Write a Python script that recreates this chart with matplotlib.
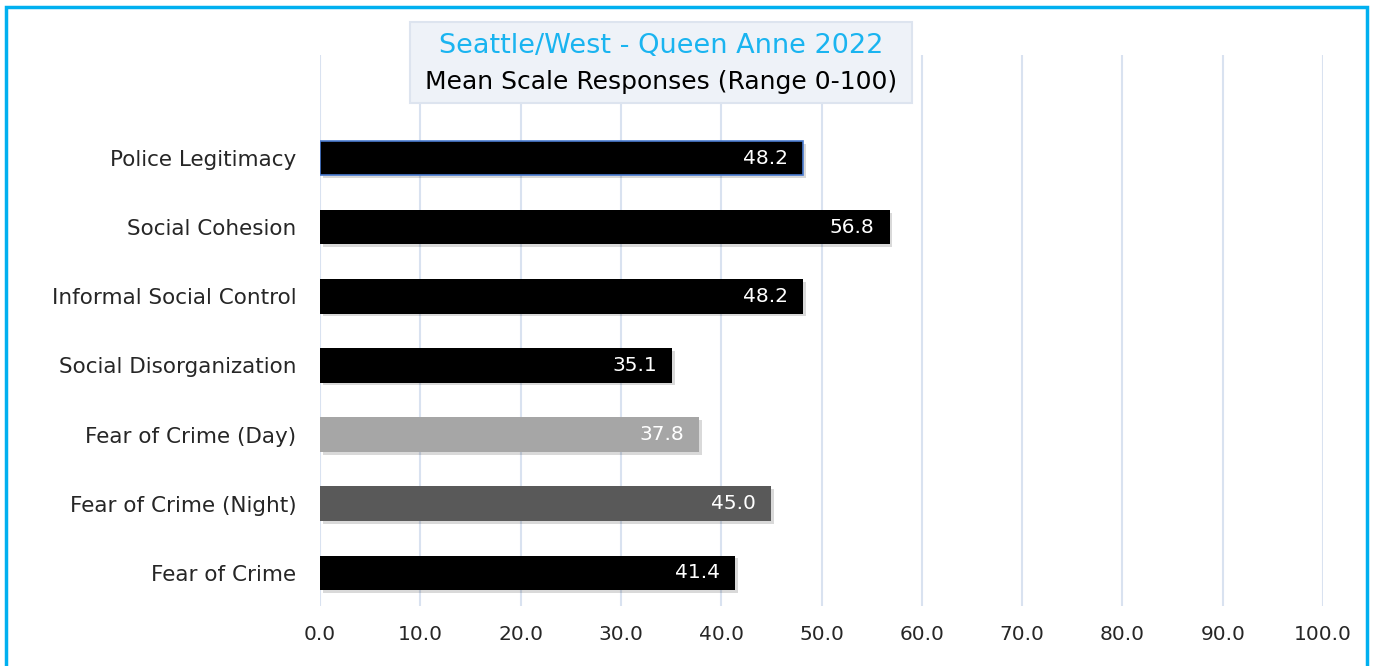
import matplotlib.pyplot as plt
import matplotlib.patches as mpatches
import matplotlib.patheffects as pe

categories = ["Fear of Crime", "Fear of Crime (Night)", "Fear of Crime (Day)",
              "Social Disorganization", "Informal Social Control",
              "Social Cohesion", "Police Legitimacy"]
values = [41.4, 45.0, 37.8, 35.1, 48.2, 56.8, 48.2]
colors = ["#000000", "#595959", "#a6a6a6", "#000000", "#000000", "#000000", "#000000"]
xticks = [0, 10, 20, 30, 40, 50, 60, 70, 80, 90, 100]

plt.rcParams['font.family'] = ['DejaVu Sans']

fig = plt.figure(figsize=(13.77, 6.66), dpi=100)
ax = fig.add_axes([320 / 1377, 1 - 606 / 666, (1323 - 320) / 1377, (606 - 55) / 666])

shadow = [pe.SimplePatchShadow(offset=(2, -2), shadow_rgbFace="#000000", alpha=0.15), pe.Normal()]
pos = list(range(len(categories)))
bars = ax.barh(pos, values, height=0.5, color=colors, zorder=3)
for b in bars:
    b.set_path_effects(shadow)
# selected outline on top bar
bars[-1].set_edgecolor("#4a7bd0")
bars[-1].set_linewidth(1.2)

for p, v in zip(pos, values):
    ax.text(v - 1.5, p, f"{v:.1f}", color="white", ha="right", va="center",
            fontsize=14.5, zorder=4)

ax.set_xlim(0, 100)
ax.set_ylim(-0.48, 7.49)
ax.set_xticks(xticks)
ax.set_xticklabels([f"{t:.1f}" for t in xticks], fontsize=14.5, color="#262626")
ax.set_yticks(pos)
ax.set_yticklabels(categories, fontsize=15.5, color="#262626")
ax.tick_params(length=0, pad=17, axis="y")
ax.tick_params(length=0, pad=14, axis="x")
ax.grid(axis="x", color="#d9e2f0", linewidth=1.5, zorder=0)
for s in ax.spines.values():
    s.set_visible(False)

# title box
fig.patches.append(mpatches.Rectangle((410 / 1377, 1 - 103 / 666), 502 / 1377, 81 / 666,
                                      transform=fig.transFigure, facecolor="#eef2f8",
                                      edgecolor="#dde4ef", linewidth=1.5, zorder=5))
fig.text(661 / 1377, 1 - 46 / 666, "Seattle/West - Queen Anne 2022", color="#1ab4f0",
         fontsize=19.5, ha="center", va="center", zorder=6)
fig.text(661 / 1377, 1 - 82 / 666, "Mean Scale Responses (Range 0-100)", color="#000000",
         fontsize=18, ha="center", va="center", zorder=6)

# outer frame
fig.patches.append(mpatches.Rectangle((6 / 1377, -0.05), 1361 / 1377, 1.05 - 7 / 666,
                                      transform=fig.transFigure, fill=False,
                                      edgecolor="#00b0f0", linewidth=2.5))

fig.savefig("out.png", dpi=100)
